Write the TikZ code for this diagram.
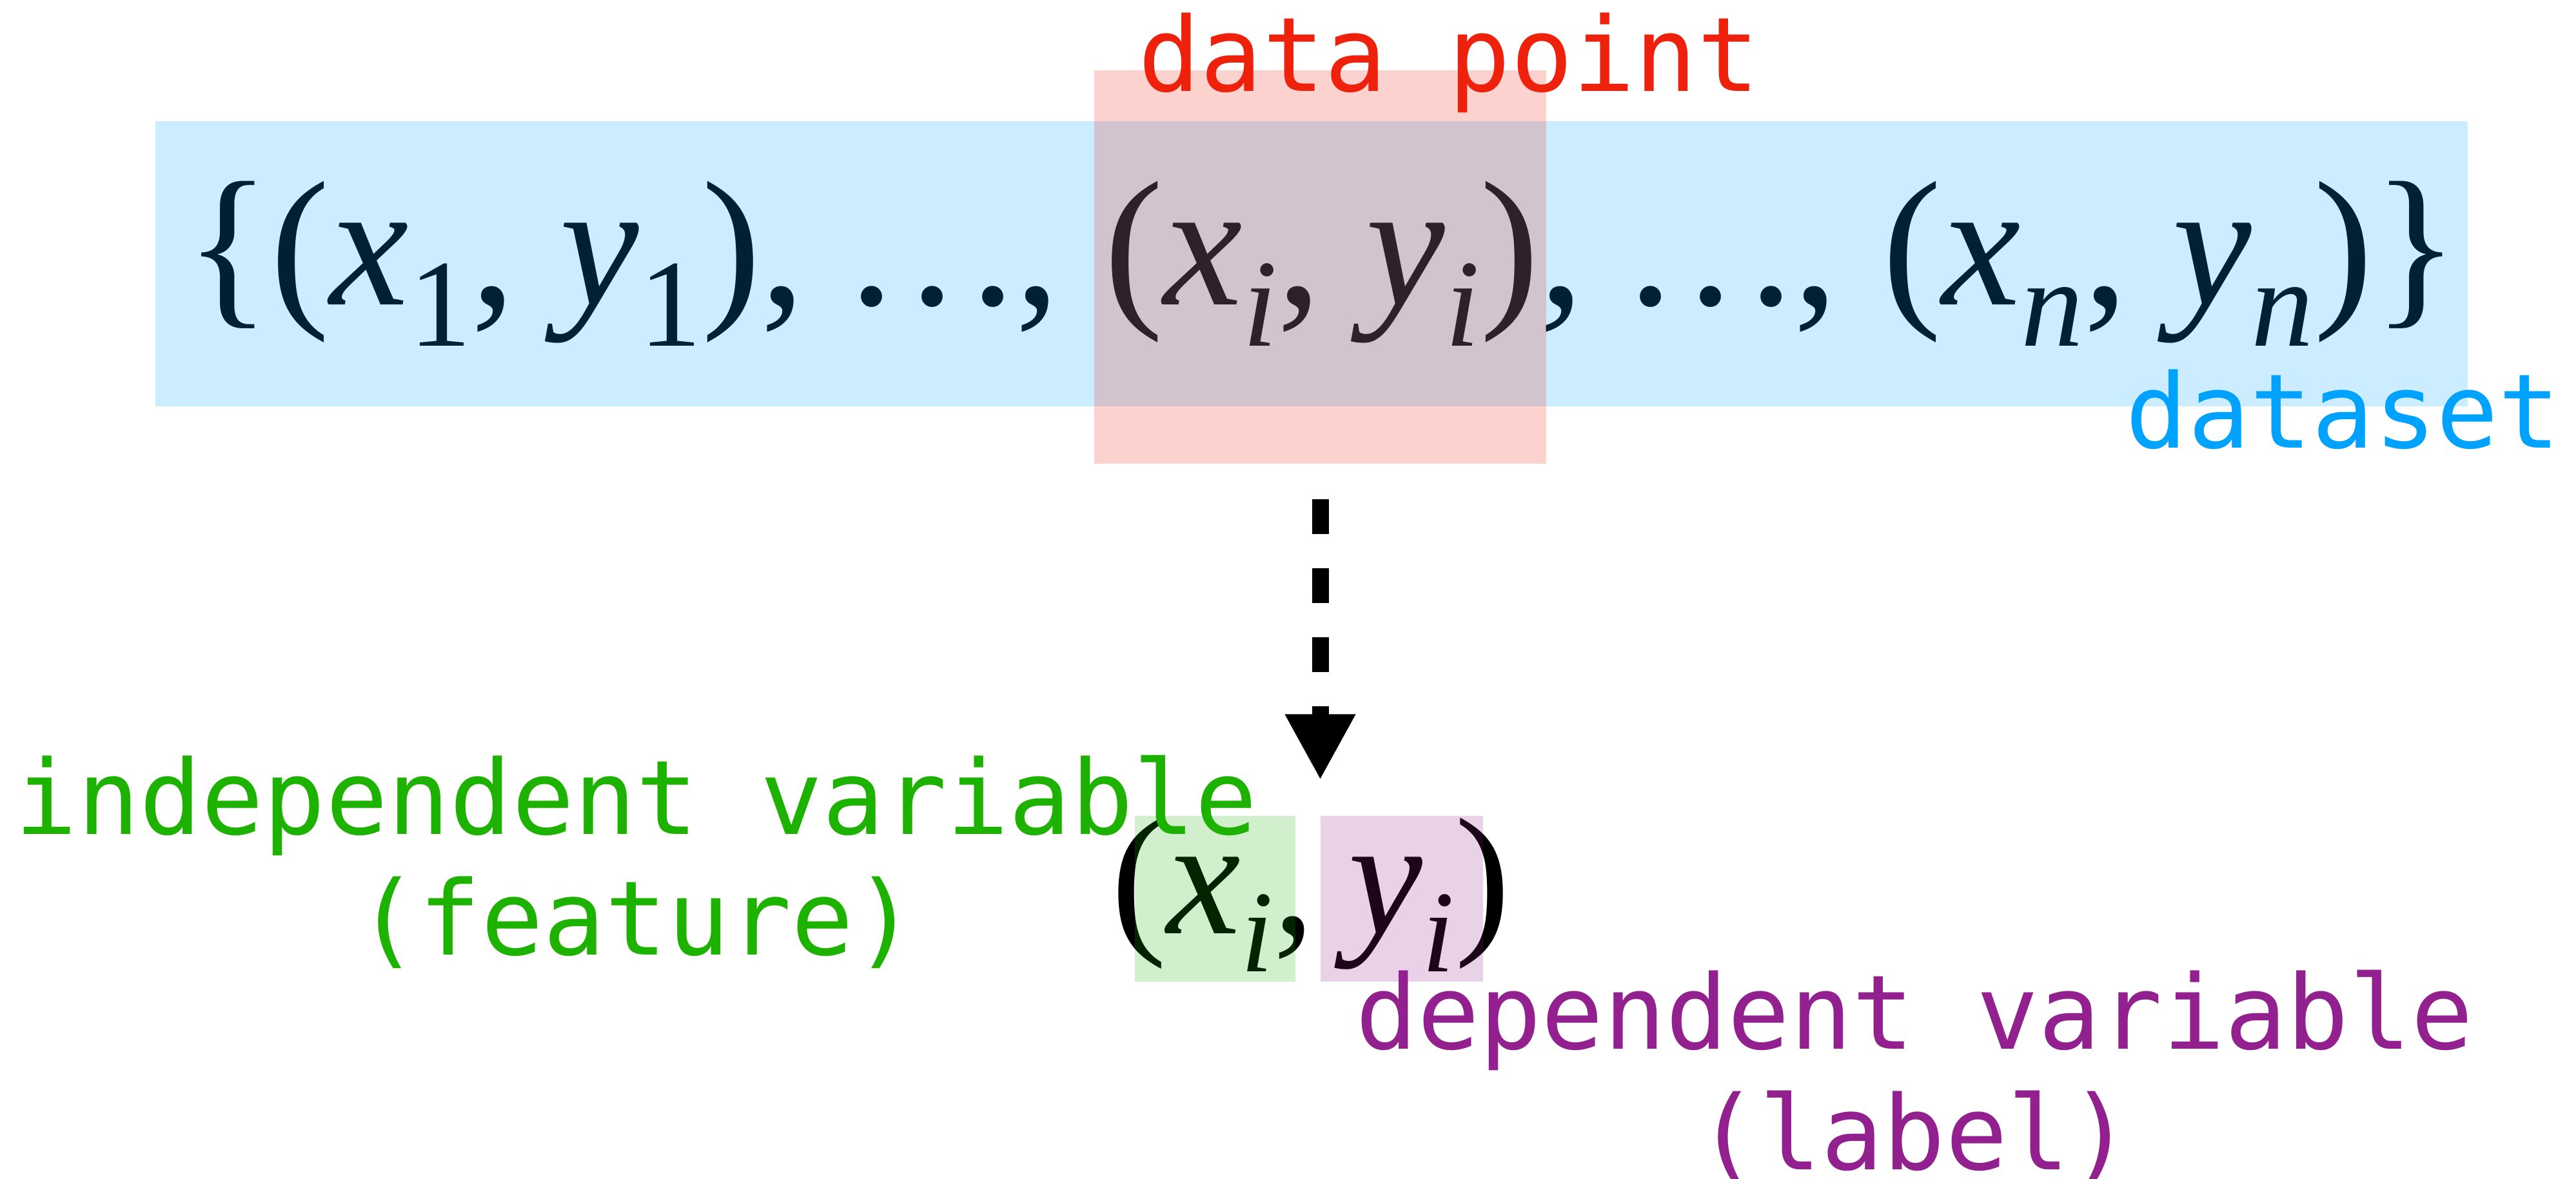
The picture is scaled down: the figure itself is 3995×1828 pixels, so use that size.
\documentclass[tikz,border=0pt]{standalone}
\usepackage{fontspec}
\usepackage{graphicx}
\setmainfont{Liberation Serif}
\newfontfamily\monof{DejaVu Sans Mono}
\usetikzlibrary{arrows.meta}
\definecolor{cblue}{RGB}{0,162,255}
\definecolor{cred}{RGB}{238,34,12}
\definecolor{cgreen}{RGB}{29,177,0}
\definecolor{cpurple}{RGB}{146,32,142}
\newcommand\sbs[1]{\raisebox{-0.23em}{\scalebox{0.7}{#1}}}
\newcommand\vx{\textit{x}}
\newcommand\vy{\textit{y}}
\newcommand\dts{.\kern0.09em.\kern0.09em.}
\begin{document}
\begin{tikzpicture}[x=0.01cm,y=-0.01cm,
  formula/.style={inner sep=0pt, anchor=base},
  lbl/.style={font=\monof\fontsize{45.5}{52.9}\selectfont, inner sep=0pt, align=center, anchor=base},
  hbox/.style={fill opacity=0.2, draw=none, inner sep=0pt},
  flow/.style={line width=7.4pt, dash pattern=on 15.36pt off 15.08pt,
    -{Triangle[length=29pt,width=29pt]}, shorten <=15.4pt, shorten >=15.6pt}]
\fill[white] (0,0) rectangle (3995,1828);
\useasboundingbox (0,0) rectangle (3995,1828);
% formulas
\node[formula, font=\fontsize{78.5}{94}\selectfont] (set) at (2050,473)
  {\{(\vx\sbs{1},\ \vy\sbs{1}),\ \dts,\ (\vx\sbs{\textit{i}},\ \vy\sbs{\textit{i}}),\ \dts,\ (\vx\sbs{\textit{n}},\ \vy\sbs{\textit{n}})\}};
\node[formula, font=\fontsize{73.5}{88}\selectfont] (pair) at (2033,1447)
  {(\vx\sbs{\textit{i}},\kern0.2em\vy\sbs{\textit{i}})};
% highlight boxes
\node[hbox, fill=cblue, minimum width=3586*0.01cm, minimum height=442*0.01cm] (dsbox) at (2034,409) {};
\node[hbox, fill=cred, minimum width=701*0.01cm, minimum height=610*0.01cm] (dpbox) at (2047.5,414) {};
\node[hbox, fill=cgreen, minimum width=249*0.01cm, minimum height=257*0.01cm] (xbox) at (1884.5,1393.5) {};
\node[hbox, fill=cpurple, minimum width=252*0.01cm, minimum height=257*0.01cm] (ybox) at (2174,1393.5) {};
% labels
\node[lbl, text=cred] (dplbl) at (2247,142) {data point};
\node[lbl, text=cblue] (dslbl) at (3634,695) {dataset};
\node[lbl, text=cgreen] (featlbl) at (987,1480) {independent variable\\(feature)};
\node[lbl, text=cpurple] (labellbl) at (2969,1813) {dependent variable\\(label)};
% arrow
\draw[flow] (dpbox.south) -- (dpbox.south |- xbox.north);
\end{tikzpicture}
\end{document}
